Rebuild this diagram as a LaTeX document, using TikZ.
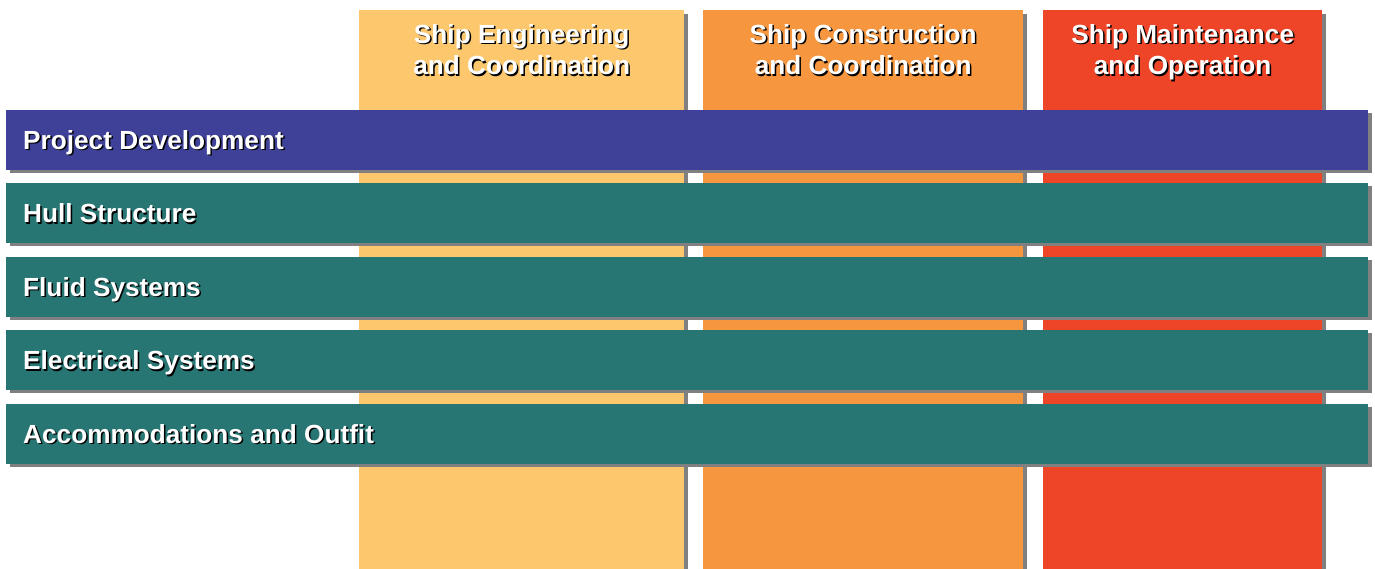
\documentclass[tikz,border=0pt]{standalone}
\usepackage{fontspec}
\setmainfont{Liberation Sans}
\usetikzlibrary{shadows}
\definecolor{colA}{HTML}{FDC86D}
\definecolor{colB}{HTML}{F6963F}
\definecolor{colC}{HTML}{EE4528}
\definecolor{rowPD}{HTML}{3F4199}
\definecolor{rowT}{HTML}{287674}
\definecolor{shadowgray}{HTML}{808080}
\tikzset{
  colbox/.style={rectangle, draw=none, inner sep=0pt, anchor=north west,
    drop shadow={shadow xshift=4pt, shadow yshift=-4pt, fill=shadowgray, opacity=1}},
  rowbox/.style={rectangle, draw=none, inner sep=0pt, anchor=north west,
    minimum width=1362pt, minimum height=60pt,
    drop shadow={shadow xshift=4pt, shadow yshift=-3pt, fill=shadowgray, opacity=1}},
  lbl/.style={text=white, font=\fontsize{26.2}{32}\selectfont\bfseries, inner sep=0pt},
  lblsh/.style={text=black, font=\fontsize{26.2}{32}\selectfont\bfseries, inner sep=0pt},
}
\begin{document}
\begin{tikzpicture}[x=1pt,y=1pt]
\useasboundingbox (0,0) rectangle (1375,569);
% columns
\node[colbox, fill=colA, minimum width=325pt, minimum height=560pt] (c1) at (359,559) {};
\node[colbox, fill=colB, minimum width=320pt, minimum height=560pt] (c2) at (703,559) {};
\node[colbox, fill=colC, minimum width=279pt, minimum height=560pt] (c3) at (1043,559) {};
% column headers
\foreach \n/\ta/\tb in {c1/Ship Engineering/and Coordination, c2/Ship Construction/and Coordination, c3/Ship Maintenance/and Operation}{
  \node[lblsh, anchor=base] at ([xshift=1.5pt,yshift=-1.5pt]\n.north |- 0,525.5) {\ta};
  \node[lbl, anchor=base] (h\n a) at (\n.north |- 0,525.5) {\ta};
  \node[lblsh, anchor=base] at ([xshift=1.5pt,yshift=-1.5pt]\n.north |- 0,494) {\tb};
  \node[lbl, anchor=base] (h\n b) at (\n.north |- 0,494) {\tb};
}
% rows
\node[rowbox, fill=rowPD] (pd) at (6,459.5) {};
\node[rowbox, fill=rowT] (hs) at (6,386) {};
\node[rowbox, fill=rowT] (fs) at (6,312.5) {};
\node[rowbox, fill=rowT] (es) at (6,239) {};
\node[rowbox, fill=rowT] (ao) at (6,165.5) {};
\foreach \n/\t in {pd/Project Development, hs/Hull Structure, fs/Fluid Systems, es/Electrical Systems, ao/Accommodations and Outfit}{
  \node[lblsh, anchor=base west] at ([xshift=18.5pt,yshift=-41.5pt]\n.north west) {\t};
  \node[lbl, anchor=base west] (t\n) at ([xshift=17pt,yshift=-40pt]\n.north west) {\t};
}
\end{tikzpicture}
\end{document}
